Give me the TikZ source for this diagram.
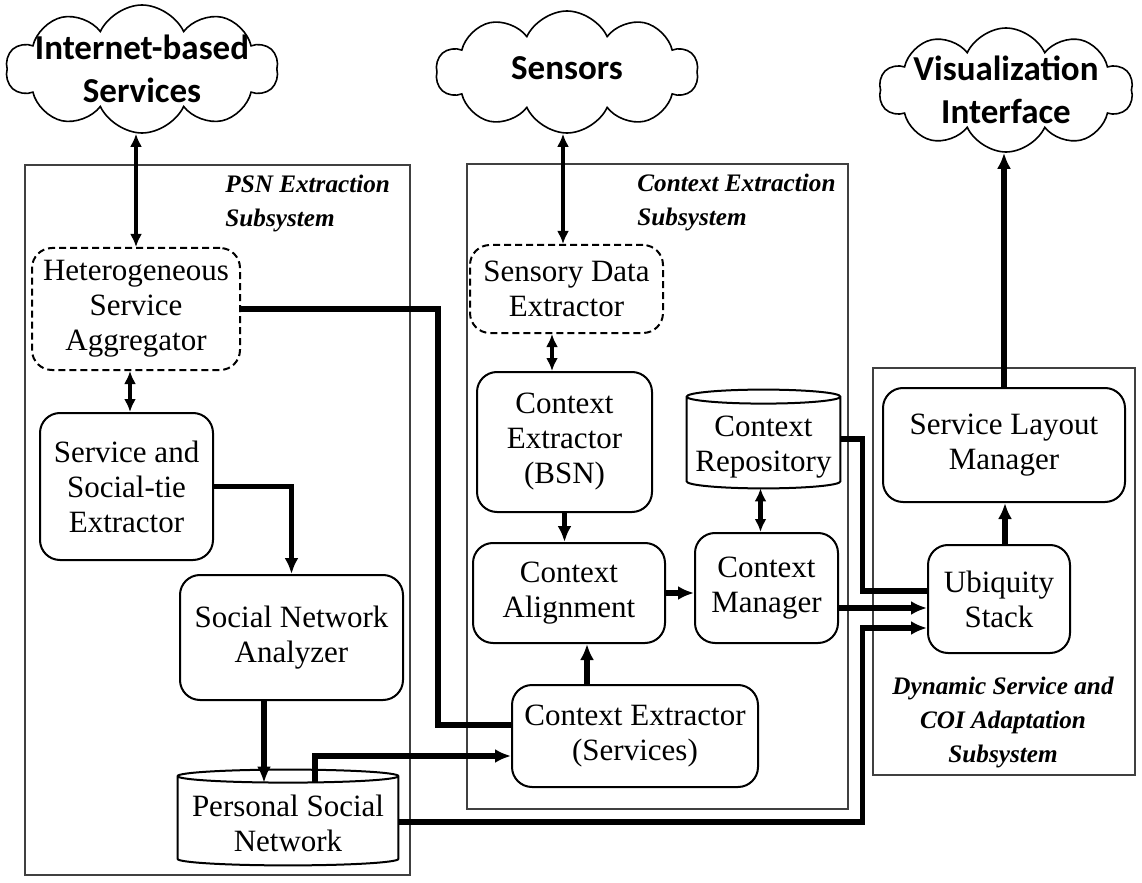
\documentclass[tikz,border=0pt]{standalone}
\usepackage{fontspec}
\setmainfont{Liberation Serif}
\newfontfamily\cloudfont{Carlito}
\usetikzlibrary{arrows.meta,shapes.symbols,calc}
\newcommand\mainsz{\fontsize{15.5}{17.5}\selectfont}
\newcommand\cloudsz{\cloudfont\bfseries\fontsize{17.5}{21.5}\selectfont}
\newcommand\subsz{\bfseries\itshape\fontsize{12.6}{17}\selectfont}
\newcommand\drawcyl[2]{%
 \draw[line width=1pt] let \p1=(#1.north west), \p2=(#1.south east), \n1={(\x2-\x1)/2} in
  (\x1,\y1-#2) -- (\x1,\y2+#2) arc[start angle=180,end angle=360,x radius=\n1,y radius=#2]
  -- (\x2,\y1-#2) arc[start angle=0,end angle=180,x radius=\n1,y radius=#2] -- cycle
  (\x1,\y1-#2) arc[start angle=180,end angle=360,x radius=\n1,y radius=#2];}
\begin{document}
\begin{tikzpicture}[x=0.5pt,y=-0.5pt,
  box/.style={draw, line width=1pt, rounded corners=10pt, align=center, font=\mainsz, inner sep=0pt},
  dbox/.style={box, dash pattern=on 3.5pt off 2pt},
  cylbox/.style={inner sep=0pt},
  cyltext/.style={align=center, font=\mainsz, inner sep=0pt},
  cloudn/.style={cloud, draw, line width=0.8pt, cloud puffs=10, cloud puff arc=130, cloud ignores aspect, inner sep=0pt},
  cloudtext/.style={font=\cloudsz, align=center, inner sep=0pt},
  sub/.style={draw=black!75, line width=0.6pt},
  sublabel/.style={font=\subsz, inner sep=0pt},
  conn/.style={line width=2.6pt, -{Latex[length=8pt,width=7pt]}},
  plainconn/.style={line width=2.6pt},
  dbl/.style={line width=2.3pt, {Latex[length=6.5pt,width=6pt]}-{Latex[length=6.5pt,width=6pt]}},
]
\useasboundingbox (0,0) rectangle (1142,883);

% subsystem frames
\draw[sub] (25,165) rectangle (410,875);
\draw[sub] (467,164) rectangle (848,809);
\draw[sub] (873,368) rectangle (1135,775);
\node[sublabel, align=left, anchor=north west] (lpsn) at (225,175) {PSN Extraction\\Subsystem};
\node[sublabel, align=left, anchor=north west] (lce) at (637,174) {Context Extraction\\Subsystem};
\node[sublabel, align=center, anchor=north] (ldyn) at (1003,677) {Dynamic Service and\\COI Adaptation\\Subsystem};

% clouds
\node[cloudn, minimum width=136pt, minimum height=64pt] (cl1) at (142,69) {};
\node[cloudtext] (t1) at (cl1.center) {Internet-based\\Services};
\node[cloudn, minimum width=131pt, minimum height=61pt] (cl2) at (567,72) {};
\node[cloudtext] (t2) at ([yshift=2pt]cl2.center) {Sensors};
\node[cloudn, minimum width=127pt, minimum height=62pt] (cl3) at (1006,90) {};
\node[cloudtext] (t3) at (cl3.center) {Visualization\\Interface};

% boxes
\node[dbox, minimum width=104pt, minimum height=61pt] (het) at (136,309) {Heterogeneous\\Service\\Aggregator};
\node[box, minimum width=86.5pt, minimum height=73.5pt] (sst) at (126.5,486.5) {Service and\\Social-tie\\Extractor};
\node[box, minimum width=111.5pt, minimum height=62.5pt] (sna) at (291.5,637.5) {Social Network\\Analyzer};
\node[cylbox, minimum width=110pt, minimum height=47.5pt] (psn) at (288,817.5) {};
\node[cyltext] (psnt) at ([yshift=-3pt]psn.center) {Personal Social\\Network};
\node[dbox, minimum width=96.5pt, minimum height=44pt] (sde) at (566.5,289) {Sensory Data\\Extractor};
\node[box, minimum width=87.5pt, minimum height=70pt] (ceb) at (564.5,442) {Context\\Extractor\\(BSN)};
\node[box, minimum width=96pt, minimum height=50pt] (cal) at (569,593) {Context\\Alignment};
\node[cylbox, minimum width=76.5pt, minimum height=49pt] (repo) at (763.5,439) {};
\node[cyltext] (repot) at ([yshift=-4pt]repo.center) {Context\\Repository};
\node[box, minimum width=71.5pt, minimum height=55pt] (cm) at (766.5,588) {Context\\Manager};
\node[box, minimum width=123pt, minimum height=51pt] (ces) at (635,736) {Context Extractor\\(Services)};
\node[box, minimum width=121pt, minimum height=57pt] (slm) at (1004,445) {Service Layout\\Manager};
\node[box, minimum width=71pt, minimum height=54pt] (ubi) at (999,599) {Ubiquity\\Stack};
\drawcyl{psn}{3.25pt}
\drawcyl{repo}{3.5pt}

% connectors
\draw[dbl] (het.north) -- (het.north |- cl1.south);
\draw[dbl] ([xshift=-1.75pt]sde.north) -- ([xshift=-1.75pt]sde.north |- cl2.south);
\draw[conn] (slm.north) -- (slm.north |- cl3.south);
\draw[dbl] ([xshift=1.75pt]sst.north) -- ([xshift=1.75pt]sst.north |- het.south);
\draw[conn] (sst.east) -| (sna.north);
\draw[plainconn] (het.east) -- ++(197,0) |- ([yshift=5.5pt]ces.west);
\draw[conn] ([xshift=-12pt]psn.north |- sna.south) -- ([xshift=-12pt,yshift=-6.5pt]psn.north);
\draw[conn] ([xshift=13.5pt,yshift=-6.5pt]psn.north) |- ([yshift=-10pt]ces.west);
\draw[conn] ([yshift=-2.25pt]psn.east) -- ++(464,0) |- ([yshift=-14.5pt]ubi.west);
\draw[dbl] ([xshift=-6.25pt]ceb.north) -- ([xshift=-6.25pt]ceb.north |- sde.south);
\draw[conn] (ceb.south) -- (ceb.south |- cal.north);
\draw[conn] ([xshift=-24pt]ces.north) -- ([xshift=-24pt]ces.north |- cal.south);
\draw[conn] (cal.east) -- (cal.east -| cm.west);
\draw[dbl] ([xshift=-3pt]cm.north) -- ([xshift=-3pt]cm.north |- repo.south);
\draw[plainconn] (repo.east) -- ++(22,0) |- ([yshift=4pt]ubi.west);
\draw[conn] ([yshift=-10pt]cm.east) -- ([yshift=-10pt]cm.east -| ubi.west);
\draw[conn] ([xshift=3pt]ubi.north) -- ([xshift=3pt]ubi.north |- slm.south);
\end{tikzpicture}
\end{document}
